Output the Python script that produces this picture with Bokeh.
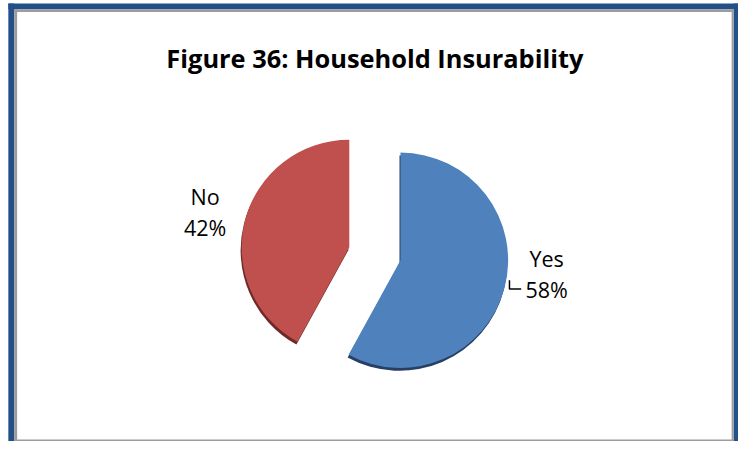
import math
from bokeh.plotting import figure
from bokeh.models import Range1d, ColumnDataSource
from bokeh.core.properties import value
from bokeh.embed import file_html
from bokeh.resources import INLINE

# ---- data ----
title_text = "Figure 36: Household Insurability"
categories = ["Yes", "No"]
shares = [58, 42]
colors = ["#4F81BD", "#C0504D"]
shadow_colors = ["#263f63", "#6e2a28"]

# ---- canvas: reference frame is 754 x 457 units, drawn into a 738 x 441 figure ----
REF_W, REF_H = 754, 457
W, H = 738, 441
SX = W / REF_W


def fy(Y):
    # reference pixel row -> data y
    return REF_H - Y


p = figure(width=W, height=H, x_range=Range1d(0, REF_W), y_range=Range1d(0, REF_H),
           output_backend="svg", toolbar_location=None, min_border=0)
p.axis.visible = False
p.grid.visible = False
p.outline_line_color = None
p.background_fill_color = "white"
p.border_fill_color = "white"

# ---- frame ----
blue, gray = "#24508a", "#9c9c9c"
p.quad(left=[8, 8, 749], right=[14, 754, 754], bottom=[0, fy(9), 0], top=[fy(3), fy(3), fy(3)],
       fill_color=blue, line_color=None)
p.quad(left=[14, 14, 747, 14], right=[17, 749, 749, 749],
       bottom=[0, fy(12), 0, 0], top=[fy(9), fy(9), fy(9), fy(455)],
       fill_color=gray, line_color=None)

# ---- pie ----
cx, cy = 382.5, fy(262.5)
R = 110
explode = 27
total = float(sum(shares))
xs, ys, sa, ea = [], [], [], []
cum = 0
for v in shares:
    a0 = 90 - 360 * cum / total
    a1 = 90 - 360 * (cum + v) / total
    mid = math.radians((a0 + a1) / 2)
    xs.append(cx + explode * math.cos(mid))
    ys.append(cy + explode * math.sin(mid))
    sa.append(math.radians(a1))
    ea.append(math.radians(a0))
    cum += v

src = ColumnDataSource(dict(x=xs, y=ys, sa=sa, ea=ea, color=colors,
                            shadow=shadow_colors,
                            xs=[x - 1 for x in xs], ys=[y - 3 for y in ys]))
p.wedge(x="xs", y="ys", radius=R, start_angle="sa", end_angle="ea",
        fill_color="shadow", line_color=None, source=src)
p.wedge(x="x", y="y", radius=R, start_angle="sa", end_angle="ea",
        fill_color="color", line_color=None, source=src)

# ---- labels ----
label_font = value("Open Sans")
label_size = f"{22 * SX:.1f}px"
label_x = [558, 209]
name_y = [fy(267), fy(203)]
pct_y = [fy(299), fy(235)]
pct_text = [f"{v}%" for v in shares]
p.text(x=label_x, y=name_y, text=categories, text_font=label_font,
       text_font_size=label_size, text_align="center", text_baseline="alphabetic",
       text_color="#000000")
p.text(x=label_x, y=pct_y, text=pct_text, text_font=label_font,
       text_font_size=label_size, text_align="center", text_baseline="alphabetic",
       text_color="#000000")
# leader line for Yes
p.line(x=[520, 520, 532], y=[fy(290), fy(299), fy(299)],
       line_color="black", line_width=1.5)

# ---- title ----
p.text(x=[382.5], y=[fy(60)], text=[title_text], text_font=value("Open Sans"),
       text_font_size=f"{26 * SX:.1f}px", text_font_style="bold", text_align="center",
       text_baseline="alphabetic", text_color="#000000")

open("out.html", "w").write(file_html(p, INLINE))
